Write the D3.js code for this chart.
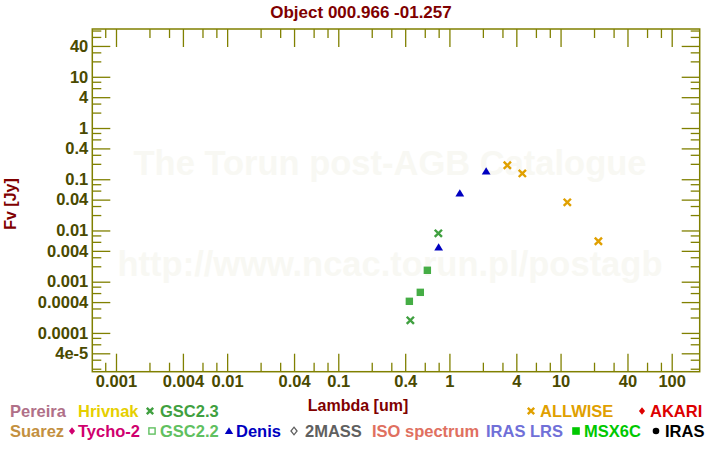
<!DOCTYPE html>
<html><head><meta charset="utf-8">
<script src="https://cdn.jsdelivr.net/npm/d3@7"></script>
<style>body{margin:0;background:#fff;}svg{display:block;font-family:"Liberation Sans",Arial,sans-serif;}</style>
</head><body>
<svg id="c" width="720" height="450"></svg>
<script>
// ---- data ----
const title = "Object 000.966 -01.257";
const xTitle = "Lambda [um]";
const yTitle = "Fv [Jy]";
const xTickVals = [0.001, 0.004, 0.01, 0.04, 0.1, 0.4, 1, 4, 10, 40, 100];
const xTickLabels = ["0.001","0.004","0.01","0.04","0.1","0.4","1","4","10","40","100"];
const yTickVals = [4e-5, 1e-4, 4e-4, 1e-3, 4e-3, 1e-2, 4e-2, 0.1, 0.4, 1, 4, 10, 40];
const yTickLabels = ["4e-5","0.0001","0.0004","0.001","0.004","0.01","0.04","0.1","0.4","1","4","10","40"];
const minorMult = [2, 3, 6, 8];

const allwiseLam = [3.32, 4.53, 11.5, 21.9];
const allwiseF   = [0.187, 0.130, 0.0354, 0.00614];
const denisLam = [0.80, 1.24, 2.14];
const denisF   = [0.00469, 0.0531, 0.143];
const gsc23Lam = [0.445, 0.795];
const gsc23F   = [1.76e-4, 0.00879];
const gsc22Lam = [0.436, 0.547, 0.633];
const gsc22F   = [4.14e-4, 6.2e-4, 1.67e-3];

const legendRow1 = [
  {t:"Pereira", c:"#b07088", m:null},
  {t:"Hrivnak", c:"#e6cf00", m:null},
  {t:"GSC2.3", c:"#40a040", m:"x"},
  {t:"ALLWISE", c:"#e0a000", m:"x"},
  {t:"AKARI", c:"#dd0000", m:"diamond"}
];
const legendRow2 = [
  {t:"Suarez", c:"#c39040", m:null},
  {t:"Tycho-2", c:"#d0006f", m:"diamond"},
  {t:"GSC2.2", c:"#60c060", m:"hsquare"},
  {t:"Denis", c:"#0000c0", m:"triangle"},
  {t:"2MASS", c:"#606060", m:"hdiamond"},
  {t:"ISO spectrum", c:"#e07060", m:null},
  {t:"IRAS LRS", c:"#7070d8", m:null},
  {t:"MSX6C", c:"#00c800", m:"square"},
  {t:"IRAS", c:"#000000", m:"circle"}
];

// ---- layout ----
const L = 92.3, R = 699.7, T = 29, B = 371.7;
const axisCol = "#808000", tickTxt = "#4a4a00", titleCol = "#800000";
const svg = d3.select("#c");
const x = d3.scaleLog().domain([6.12e-4, 178.6]).range([L, R]);
const y = d3.scaleLog().domain([1.75e-5, 85.7]).range([B, T]);

// watermark
svg.append("text").attr("x", 390).attr("y", 175).attr("text-anchor","middle")
  .attr("font-size", 34.5).attr("font-weight","bold").attr("fill","#f8f8f3").text("The Torun post-AGB Catalogue");
svg.append("text").attr("x", 390).attr("y", 276).attr("text-anchor","middle")
  .attr("font-size", 34.5).attr("font-weight","bold").attr("fill","#f8f8f3").text("http://www.ncac.torun.pl/postagb");

function minors(sc){
  const [a,b] = sc.domain(); const out=[];
  for(let e=Math.floor(Math.log10(a)); e<=Math.ceil(Math.log10(b)); e++){
    for(const m of minorMult){ const v=m*Math.pow(10,e); if(v>=a && v<=b) out.push(v); }
  }
  return out;
}
function drawAxis(gen, tr, vals, size, labels){
  const ax = gen.tickValues(vals).tickSize(-size).tickPadding(size+4);
  if(labels){ ax.tickFormat((d,i)=>labels[i]); } else { ax.tickFormat(""); }
  const g = svg.append("g").attr("transform", tr).call(ax);
  g.select(".domain").remove();
  g.selectAll("line").attr("stroke", axisCol).attr("stroke-width",1.3);
  g.selectAll("text").attr("fill", tickTxt).attr("font-size",16.5).attr("font-weight","bold")
   .attr("font-family","'Liberation Sans',Arial,sans-serif");
  return g;
}
const gb = drawAxis(d3.axisBottom(x), `translate(0,${B})`, xTickVals, 18, xTickLabels);
gb.selectAll("text").attr("dy","0").attr("y", 15);
drawAxis(d3.axisBottom(x), `translate(0,${B})`, minors(x), 9, null);
drawAxis(d3.axisTop(x), `translate(0,${T})`, xTickVals, 18, null);
drawAxis(d3.axisTop(x), `translate(0,${T})`, minors(x), 9, null);
const gl = drawAxis(d3.axisLeft(y), `translate(${L},0)`, yTickVals, 18, yTickLabels);
gl.selectAll("text").attr("x", -4);
drawAxis(d3.axisLeft(y), `translate(${L},0)`, minors(y), 9, null);
drawAxis(d3.axisRight(y), `translate(${R},0)`, yTickVals, 18, null);
drawAxis(d3.axisRight(y), `translate(${R},0)`, minors(y), 9, null);

svg.append("rect").attr("x",L).attr("y",T).attr("width",R-L).attr("height",B-T)
  .attr("fill","none").attr("stroke",axisCol).attr("stroke-width",1.5);

svg.append("text").attr("x",361).attr("y",18).attr("text-anchor","middle").attr("font-size",17)
  .attr("font-weight","bold").attr("fill",titleCol).text(title);
svg.append("text").attr("x",358).attr("y",411).attr("text-anchor","middle").attr("font-size",16)
  .attr("font-weight","bold").attr("fill",titleCol).text(xTitle);
svg.append("text").attr("transform","translate(16,204) rotate(-90)").attr("text-anchor","middle")
  .attr("font-size",16).attr("font-weight","bold").attr("fill",titleCol).text(yTitle);

function xMark(g, cx, cy, col, s){
  g.append("path").attr("d",`M${cx-s},${cy-s}L${cx+s},${cy+s}M${cx-s},${cy+s}L${cx+s},${cy-s}`)
   .attr("stroke",col).attr("stroke-width",2.4).attr("fill","none");
}
function marker(g, type, cx, cy, col, s){
  if(type==="x") xMark(g,cx,cy,col,s);
  else if(type==="triangle") g.append("path").attr("d",`M${cx},${cy-s}L${cx+s*1.1},${cy+s*0.8}L${cx-s*1.1},${cy+s*0.8}Z`).attr("fill",col);
  else if(type==="diamond") g.append("path").attr("d",`M${cx},${cy-s}L${cx+s*0.8},${cy}L${cx},${cy+s}L${cx-s*0.8},${cy}Z`).attr("fill",col);
  else if(type==="hdiamond") g.append("path").attr("d",`M${cx},${cy-s}L${cx+s*0.8},${cy}L${cx},${cy+s}L${cx-s*0.8},${cy}Z`).attr("fill","none").attr("stroke",col).attr("stroke-width",1.3);
  else if(type==="square") g.append("rect").attr("x",cx-s).attr("y",cy-s).attr("width",2*s).attr("height",2*s).attr("fill",col);
  else if(type==="hsquare") g.append("rect").attr("x",cx-s+0.7).attr("y",cy-s+0.7).attr("width",2*s-1.4).attr("height",2*s-1.4).attr("fill","none").attr("stroke",col).attr("stroke-width",1.4);
  else if(type==="circle") g.append("circle").attr("cx",cx).attr("cy",cy).attr("r",s).attr("fill",col);
}
const pts = svg.append("g");
gsc22Lam.forEach((l,i)=>marker(pts,"square",x(l),y(gsc22F[i]),"#45ad45",3.7));
gsc23Lam.forEach((l,i)=>marker(pts,"x",x(l),y(gsc23F[i]),"#40a040",3.6));
denisLam.forEach((l,i)=>marker(pts,"triangle",x(l),y(denisF[i]),"#0000c0",4));
allwiseLam.forEach((l,i)=>marker(pts,"x",x(l),y(allwiseF[i]),"#e0a000",3.6));

function legendRow(items, yb, positions){
  items.forEach((it,i)=>{
    const p = positions[i];
    if(it.m){
      const s = (it.m==="x")?3.2:(it.m==="circle"?3.3:3.8);
      marker(svg, it.m, p.mx, yb-5.5, it.c, s);
    }
    svg.append("text").attr("x",p.tx).attr("y",yb).attr("font-size",16.5).attr("font-weight","bold")
      .attr("fill",it.c).text(it.t);
  });
}
legendRow(legendRow1, 416.5, [{tx:10},{tx:78},{mx:150,tx:160},{mx:531,tx:540},{mx:642,tx:650}]);
legendRow(legendRow2, 436.5, [{tx:10},{mx:72,tx:78},{mx:152,tx:160},{mx:229,tx:236},{mx:294,tx:305},{tx:372},{tx:486},{mx:576,tx:584},{mx:656,tx:665}]);
</script>
</body></html>
